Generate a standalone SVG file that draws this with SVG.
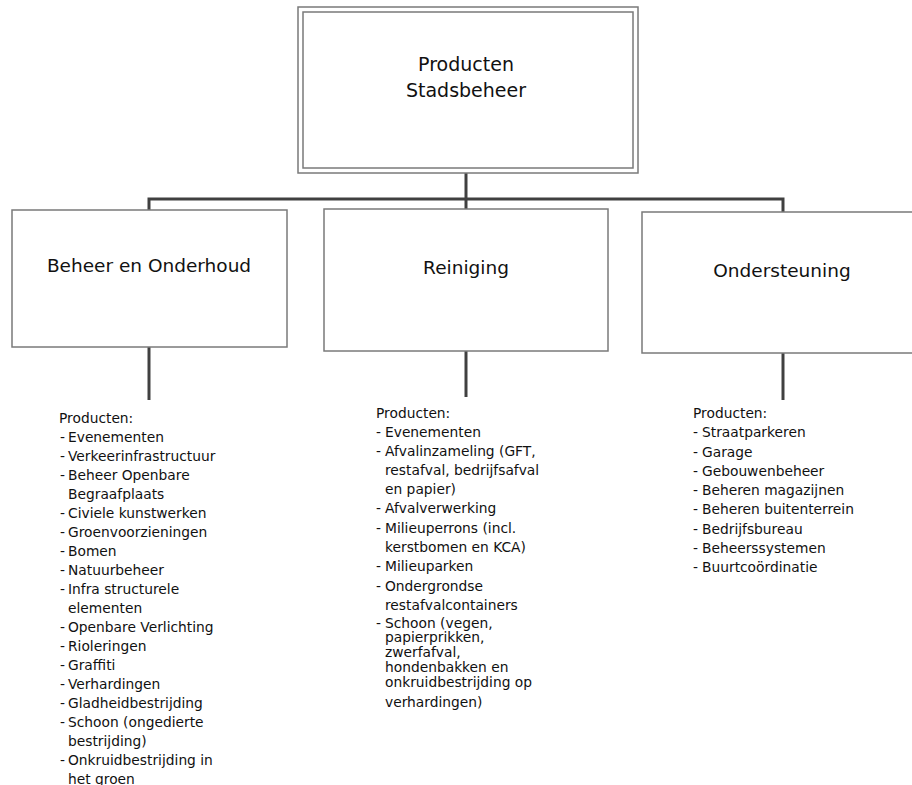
<svg xmlns="http://www.w3.org/2000/svg" width="912" height="785" viewBox="0 0 912 785">
<style>
.box{fill:#fff;stroke:#7a7a7a;stroke-width:1.5}
.con{fill:none;stroke:#404040;stroke-width:3}
.t{font-family:"DejaVu Sans",Verdana,sans-serif;fill:#111;text-anchor:middle}
.big{font-size:19px}
.mid{font-size:18.5px}
.l{font-family:"DejaVu Sans",Verdana,sans-serif;font-size:13.8px;fill:#111}
</style>
<rect width="912" height="785" fill="#fff"/>
<g id="connectors">
<path class="con" d="M466 173 V209"/>
<path class="con" d="M149 210 V199 H783 V212"/>
<path class="con" d="M149 347 V400"/>
<path class="con" d="M466 351 V397"/>
<path class="con" d="M783 353 V400"/>
</g>
<g id="top">
<rect class="box" x="298" y="7" width="340" height="166"/>
<rect class="box" x="303" y="12" width="330" height="156"/>
<text class="t big" x="466" y="71">Producten</text>
<text class="t big" x="466" y="97">Stadsbeheer</text>
</g>
<g id="beheer">
<rect class="box" x="12" y="210" width="275" height="137"/>
<text class="t mid" x="149" y="272">Beheer en Onderhoud</text>
</g>
<g id="reiniging">
<rect class="box" x="324" y="209" width="284" height="142"/>
<text class="t mid" x="466" y="274">Reiniging</text>
</g>
<g id="ondersteuning">
<rect class="box" x="642" y="212" width="280" height="141"/>
<text class="t mid" x="782" y="277">Ondersteuning</text>
</g>
<g id="list-beheer" class="l">
<text x="59" y="423">Producten:</text>
<text x="60" y="442">-</text><text x="68" y="442">Evenementen</text>
<text x="60" y="461">-</text><text x="68" y="461">Verkeerinfrastructuur</text>
<text x="60" y="480">-</text><text x="68" y="480">Beheer Openbare</text>
<text x="68" y="499">Begraafplaats</text>
<text x="60" y="518">-</text><text x="68" y="518">Civiele kunstwerken</text>
<text x="60" y="537">-</text><text x="68" y="537">Groenvoorzieningen</text>
<text x="60" y="556">-</text><text x="68" y="556">Bomen</text>
<text x="60" y="575">-</text><text x="68" y="575">Natuurbeheer</text>
<text x="60" y="594">-</text><text x="68" y="594">Infra structurele</text>
<text x="68" y="613">elementen</text>
<text x="60" y="632">-</text><text x="68" y="632">Openbare Verlichting</text>
<text x="60" y="651">-</text><text x="68" y="651">Rioleringen</text>
<text x="60" y="670">-</text><text x="68" y="670">Graffiti</text>
<text x="60" y="689">-</text><text x="68" y="689">Verhardingen</text>
<text x="60" y="708">-</text><text x="68" y="708">Gladheidbestrijding</text>
<text x="60" y="727">-</text><text x="68" y="727">Schoon (ongedierte</text>
<text x="68" y="746">bestrijding)</text>
<text x="60" y="765">-</text><text x="68" y="765">Onkruidbestrijding in</text>
<text x="68" y="784">het groen</text>
</g>
<g id="list-reiniging" class="l">
<text x="376" y="418">Producten:</text>
<text x="376" y="437">-</text><text x="385" y="437">Evenementen</text>
<text x="376" y="456">-</text><text x="385" y="456">Afvalinzameling (GFT,</text>
<text x="385" y="475">restafval, bedrijfsafval</text>
<text x="385" y="494">en papier)</text>
<text x="376" y="513">-</text><text x="385" y="513">Afvalverwerking</text>
<text x="376" y="533">-</text><text x="385" y="533">Milieuperrons (incl.</text>
<text x="385" y="552">kerstbomen en KCA)</text>
<text x="376" y="571">-</text><text x="385" y="571">Milieuparken</text>
<text x="376" y="591">-</text><text x="385" y="591">Ondergrondse</text>
<text x="385" y="610">restafvalcontainers</text>
<text x="376" y="628">-</text><text x="385" y="628">Schoon (vegen,</text>
<text x="385" y="642">papierprikken,</text>
<text x="385" y="657">zwerfafval,</text>
<text x="385" y="672">hondenbakken en</text>
<text x="385" y="687">onkruidbestrijding op</text>
<text x="385" y="707">verhardingen)</text>
</g>
<g id="list-ondersteuning" class="l">
<text x="693" y="418">Producten:</text>
<text x="693" y="437">-</text><text x="702" y="437">Straatparkeren</text>
<text x="693" y="457">-</text><text x="702" y="457">Garage</text>
<text x="693" y="476">-</text><text x="702" y="476">Gebouwenbeheer</text>
<text x="693" y="495">-</text><text x="702" y="495">Beheren magazijnen</text>
<text x="693" y="514">-</text><text x="702" y="514">Beheren buitenterrein</text>
<text x="693" y="534">-</text><text x="702" y="534">Bedrijfsbureau</text>
<text x="693" y="553">-</text><text x="702" y="553">Beheerssystemen</text>
<text x="693" y="572">-</text><text x="702" y="572">Buurtcoördinatie</text>
</g>
</svg>
